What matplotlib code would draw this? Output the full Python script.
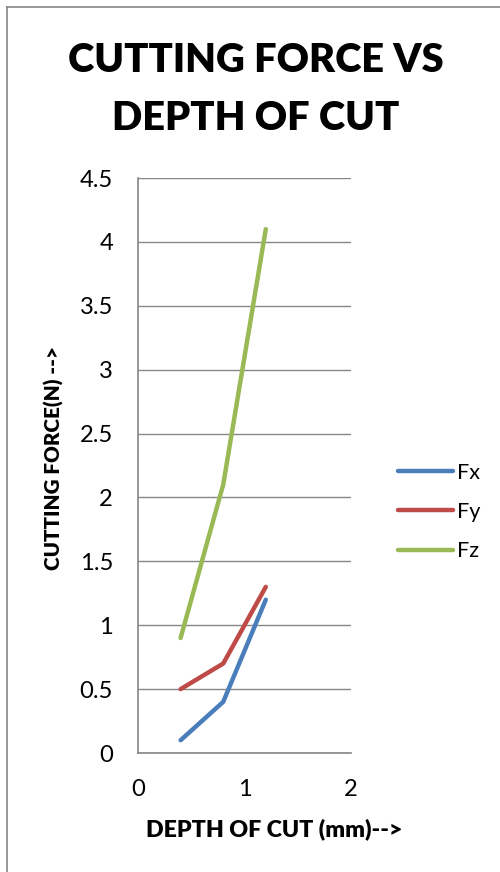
import matplotlib.pyplot as plt
from matplotlib.lines import Line2D

plt.rcParams['font.family'] = ['Lato', 'DejaVu Sans']

# data
depth = [0.4, 0.8, 1.2]
fx = [0.1, 0.4, 1.2]
fy = [0.5, 0.7, 1.3]
fz = [0.9, 2.1, 4.1]

series = [('Fx', fx, '#4A7EBB'), ('Fy', fy, '#BE4B48'), ('Fz', fz, '#98B954')]
yticks = [0, 0.5, 1, 1.5, 2, 2.5, 3, 3.5, 4, 4.5]
ylabels = ['0', '0.5', '1', '1.5', '2', '2.5', '3', '3.5', '4', '4.5']
xticks = [0, 1, 2]

W, H = 500, 872
fig = plt.figure(figsize=(W / 100, H / 100), dpi=100)
renderer = fig.canvas.get_renderer()
BOLD = 'heavy'


def fit_size(s, target_px, weight='normal', base=20):
    # font size (pt) that makes the string target_px wide
    t = fig.text(0, 0, s, fontsize=base, fontweight=weight)
    w = t.get_window_extent(renderer).width
    t.remove()
    return base * target_px / w


tick_fs = fit_size('2.5', 33)
leg_fs = fit_size('Fx', 23)
title_fs = fit_size('CUTTING FORCE VS', 376, BOLD)
xl_fs = fit_size('DEPTH OF CUT (mm)-->', 257, BOLD)
yl_fs = fit_size('CUTTING FORCE(N) -->', 223, BOLD)

ax = fig.add_axes([138 / W, 1 - 753 / H, 213 / W, 575 / H])

for name, vals, col in series:
    ax.plot(depth, vals, color=col, lw=3.2, solid_capstyle='round', label=name)

ax.set_xlim(0, 2)
ax.set_ylim(0, 4.5)
ax.set_yticks(yticks)
ax.set_yticklabels(ylabels)
ax.set_xticks(xticks)
ax.set_xticklabels([str(t) for t in xticks])
ax.grid(axis='y', color='#868686', lw=1)
ax.set_axisbelow(True)
for s in ['top', 'right']:
    ax.spines[s].set_visible(False)
for s in ['left', 'bottom']:
    ax.spines[s].set_color('#868686')
    ax.spines[s].set_linewidth(1.2)
ax.tick_params(axis='y', length=0, pad=18, labelsize=tick_fs)
ax.tick_params(axis='x', length=0, pad=19, labelsize=tick_fs)

# title and axis labels
fig.text(256 / W, 1 - 72 / H, 'CUTTING FORCE VS', ha='center', va='baseline',
         fontsize=title_fs, fontweight=BOLD)
fig.text(256 / W, 1 - 130 / H, 'DEPTH OF CUT', ha='center', va='baseline',
         fontsize=title_fs, fontweight=BOLD)
fig.text(274 / W, 1 - 836 / H, 'DEPTH OF CUT (mm)-->', ha='center', va='baseline',
         fontsize=xl_fs, fontweight=BOLD)
fig.text(54 / W, 1 - 458 / H, 'CUTTING FORCE(N) -->', ha='center', va='center',
         fontsize=yl_fs, fontweight=BOLD, rotation=90)

leg_px = leg_fs * 100 / 72
fig.legend(loc='center left', bbox_to_anchor=(398 / W, 1 - 512 / H), frameon=False,
           fontsize=leg_fs, handlelength=55 / leg_px, labelspacing=0.9,
           handletextpad=4 / leg_px, borderpad=0, borderaxespad=0)

# chart frame
fig.add_artist(Line2D([7 / W, 7 / W], [0, 1 - 7 / H], color='#868686', lw=1.2))
fig.add_artist(Line2D([7 / W, 1], [1 - 7 / H, 1 - 7 / H], color='#868686', lw=1.2))

fig.savefig('out.png', dpi=100)
